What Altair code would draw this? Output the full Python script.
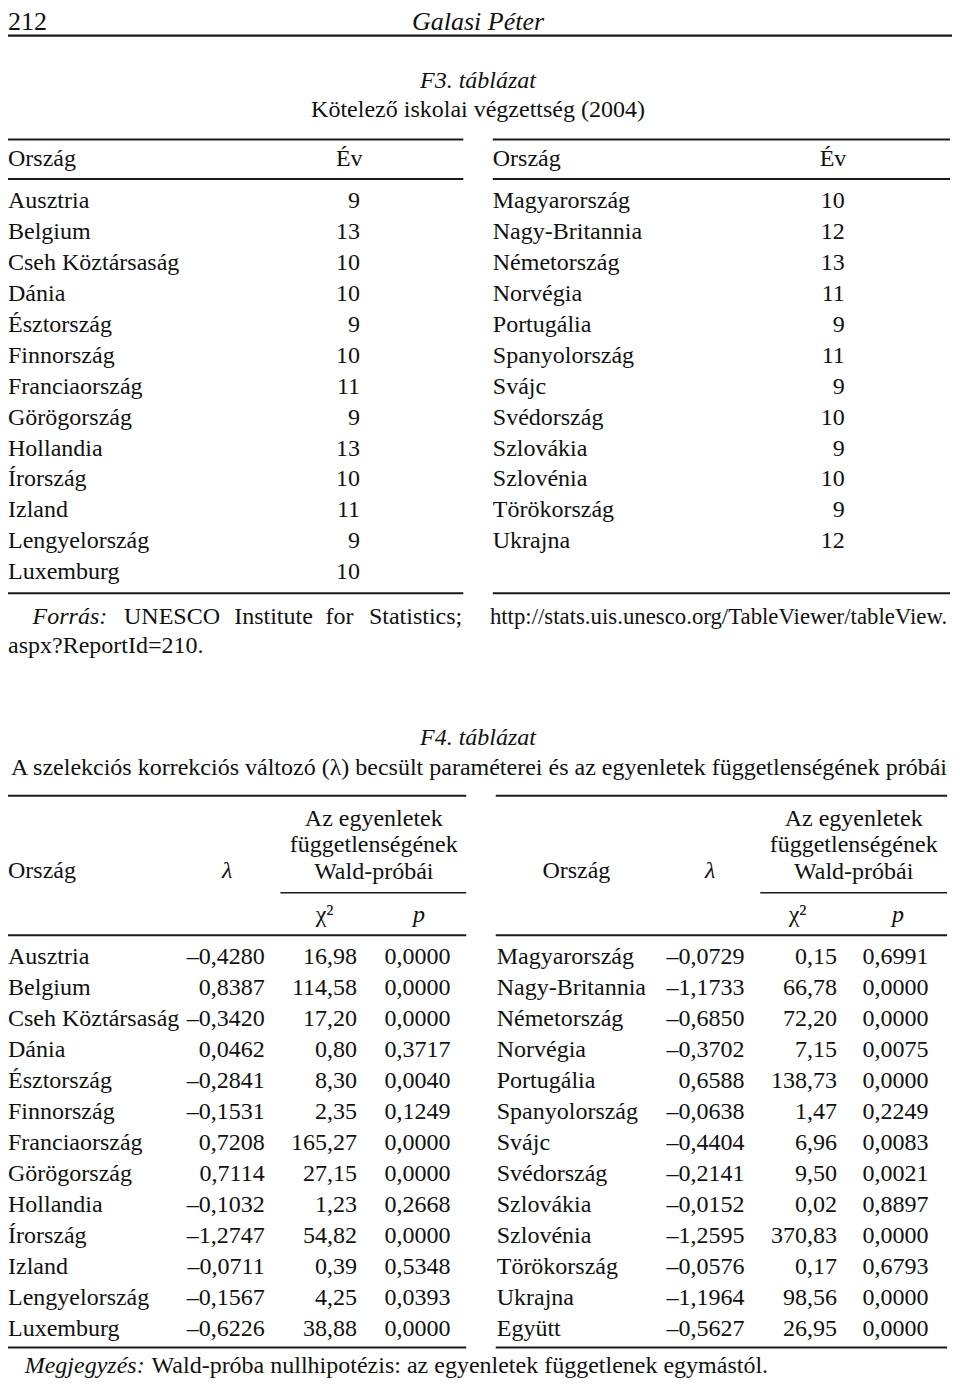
import altair as alt
import pandas as pd

# ---------------- data ----------------
page_number = "212"
running_head = "Galasi Péter"

f3_label = "F3. táblázat"
f3_title = "Kötelező iskolai végzettség (2004)"
f3_headers = ["Ország", "Év"]
f3_left_countries = ["Ausztria", "Belgium", "Cseh Köztársaság", "Dánia", "Észtország",
                     "Finnország", "Franciaország", "Görögország", "Hollandia", "Írország",
                     "Izland", "Lengyelország", "Luxemburg"]
f3_left_years = [9, 13, 10, 10, 9, 10, 11, 9, 13, 10, 11, 9, 10]
f3_right_countries = ["Magyarország", "Nagy-Britannia", "Németország", "Norvégia", "Portugália",
                      "Spanyolország", "Svájc", "Svédország", "Szlovákia", "Szlovénia",
                      "Törökország", "Ukrajna"]
f3_right_years = [10, 12, 13, 11, 9, 11, 9, 10, 9, 10, 9, 12]
f3_source_words = ["UNESCO", "Institute", "for", "Statistics;"]
f3_source_url = "http://stats.uis.unesco.org/TableViewer/tableView."
f3_source_cont = "aspx?ReportId=210."

f4_label = "F4. táblázat"
f4_title = ("A szelekciós korrekciós változó (λ) becsült paraméterei és az egyenletek "
            "függetlenségének próbái")
f4_group_header = ["Az egyenletek", "függetlenségének", "Wald-próbái"]
f4_left_countries = ["Ausztria", "Belgium", "Cseh Köztársaság", "Dánia", "Észtország",
                     "Finnország", "Franciaország", "Görögország", "Hollandia", "Írország",
                     "Izland", "Lengyelország", "Luxemburg"]
f4_left_lambda = [-0.4280, 0.8387, -0.3420, 0.0462, -0.2841, -0.1531, 0.7208, 0.7114,
                  -0.1032, -1.2747, -0.0711, -0.1567, -0.6226]
f4_left_chi2 = [16.98, 114.58, 17.20, 0.80, 8.30, 2.35, 165.27, 27.15, 1.23, 54.82,
                0.39, 4.25, 38.88]
f4_left_p = [0.0000, 0.0000, 0.0000, 0.3717, 0.0040, 0.1249, 0.0000, 0.0000, 0.2668,
             0.0000, 0.5348, 0.0393, 0.0000]
f4_right_countries = ["Magyarország", "Nagy-Britannia", "Németország", "Norvégia", "Portugália",
                      "Spanyolország", "Svájc", "Svédország", "Szlovákia", "Szlovénia",
                      "Törökország", "Ukrajna", "Együtt"]
f4_right_lambda = [-0.0729, -1.1733, -0.6850, -0.3702, 0.6588, -0.0638, -0.4404, -0.2141,
                   -0.0152, -1.2595, -0.0576, -1.1964, -0.5627]
f4_right_chi2 = [0.15, 66.78, 72.20, 7.15, 138.73, 1.47, 6.96, 9.50, 0.02, 370.83,
                 0.17, 98.56, 26.95]
f4_right_p = [0.6991, 0.0000, 0.0000, 0.0075, 0.0000, 0.2249, 0.0083, 0.0021, 0.8897,
              0.0000, 0.6793, 0.0000, 0.0000]
f4_note_label = "Megjegyzés:"
f4_note = "Wald-próba nullhipotézis: az egyenletek függetlenek egymástól."


def hu(v, d):
    s = f"{abs(v):.{d}f}".replace(".", ",")
    return ("–" + s) if v < 0 else s


# ---------------- layout (page coordinates of the reference) ----------------
ROW = 31.33
cells = []
rules = []


def add(x, y, text, kind):
    cells.append(dict(x=x, y=y, text=text, kind=kind))


def rule(x, x2, y, w):
    rules.append(dict(x=x, x2=x2, y=y, w=w))


# running head
add(0, 14, page_number, "Lbig")
add(478, 14, running_head, "CIbig")
rule(0, 960, 28, 2.2)

# F3
add(478, 74, f3_label, "CI")
add(478, 103, f3_title, "C")
rule(0, 463, 133, 2)
rule(493, 958, 133, 2)
add(0, 153, f3_headers[0], "L")
add(347, 153, f3_headers[1], "C")
add(493, 153, f3_headers[0], "L")
add(839, 153, f3_headers[1], "C")
rule(0, 463, 173, 2)
rule(493, 958, 173, 2)
for i, (c, v) in enumerate(zip(f3_left_countries, f3_left_years)):
    y = 195 + i * ROW
    add(0, y, c, "L")
    add(358, y, str(v), "R")
for i, (c, v) in enumerate(zip(f3_right_countries, f3_right_years)):
    y = 195 + i * ROW
    add(493, y, c, "L")
    add(851, y, str(v), "R")
rule(0, 463, 592, 2)
rule(493, 958, 592, 2)
add(25, 616, "Forrás:", "LI")
for x, w in zip([118, 230, 323, 367], f3_source_words):
    add(x, 616, w, "L")
add(955, 616, f3_source_url, "Rsmall")
add(0, 645, f3_source_cont, "L")

# F4
add(478, 739, f4_label, "CI")
add(479, 769, f4_title, "C")
rule(0, 466, 797, 2)
rule(496, 955, 797, 2)
for cx in (372, 860):
    for k, t in enumerate(f4_group_header):
        add(cx, 820 + k * 27, t, "C")
add(0, 873, "Ország", "L")
add(223, 873, "λ", "CI")
add(578, 873, "Ország", "C")
add(714, 873, "λ", "CI")
rule(277, 466, 895, 1.5)
rule(765, 955, 895, 1.5)
add(322, 918, "χ²", "C")
add(418, 918, "p", "CI")
add(803, 918, "χ²", "C")
add(905, 918, "p", "CI")
rule(0, 466, 938, 2)
rule(496, 955, 938, 2)
for i in range(len(f4_left_countries)):
    y = 960 + i * ROW
    add(0, y, f4_left_countries[i], "L")
    add(261, y, hu(f4_left_lambda[i], 4), "R")
    add(355, y, hu(f4_left_chi2[i], 2), "R")
    add(450, y, hu(f4_left_p[i], 4), "R")
for i in range(len(f4_right_countries)):
    y = 960 + i * ROW
    add(497, y, f4_right_countries[i], "L")
    add(749, y, hu(f4_right_lambda[i], 4), "R")
    add(843, y, hu(f4_right_chi2[i], 2), "R")
    add(936, y, hu(f4_right_p[i], 4), "R")
rule(0, 466, 1355, 2)
rule(496, 955, 1355, 2)
add(139, 1374, f4_note_label, "RI")
add(773, 1374, f4_note, "R")

cells_df = pd.DataFrame(cells)
rules_df = pd.DataFrame(rules)

# ---------------- chart ----------------
FONT = "Liberation Serif"
BODY = 24
BIG = 26
W, H = 944, 1373

xs = alt.Scale(domain=[0, 960], nice=False, zero=False)
ys = alt.Scale(domain=[0, 1389], nice=False, zero=False, reverse=True)

styles = {
    "L": dict(align="left", fontStyle="normal", fontSize=BODY),
    "R": dict(align="right", fontStyle="normal", fontSize=BODY),
    "C": dict(align="center", fontStyle="normal", fontSize=BODY),
    "LI": dict(align="left", fontStyle="italic", fontSize=BODY),
    "RI": dict(align="right", fontStyle="italic", fontSize=BODY),
    "CI": dict(align="center", fontStyle="italic", fontSize=BODY),
    "Rsmall": dict(align="right", fontStyle="normal", fontSize=22.8),
    "Lbig": dict(align="left", fontStyle="normal", fontSize=BIG),
    "CIbig": dict(align="center", fontStyle="italic", fontSize=BIG),
}

layers = [
    alt.Chart(rules_df).mark_rule(color="#1a1a1a").encode(
        x=alt.X("x:Q", scale=xs, axis=None),
        x2="x2:Q",
        y=alt.Y("y:Q", scale=ys, axis=None),
        strokeWidth=alt.StrokeWidth("w:Q", scale=None, legend=None),
    )
]
for kind, st in styles.items():
    sub = cells_df[cells_df["kind"] == kind]
    if sub.empty:
        continue
    layers.append(
        alt.Chart(sub).mark_text(baseline="middle", font=FONT, color="#111111", **st).encode(
            x=alt.X("x:Q", scale=xs, axis=None),
            y=alt.Y("y:Q", scale=ys, axis=None),
            text="text:N",
        )
    )

chart = (
    alt.layer(*layers)
    .properties(width=W, height=H, padding=0, autosize="none", background="white")
    .configure_view(strokeWidth=0)
)

chart.save("out.html", embed_options={"renderer": "svg", "actions": False})
